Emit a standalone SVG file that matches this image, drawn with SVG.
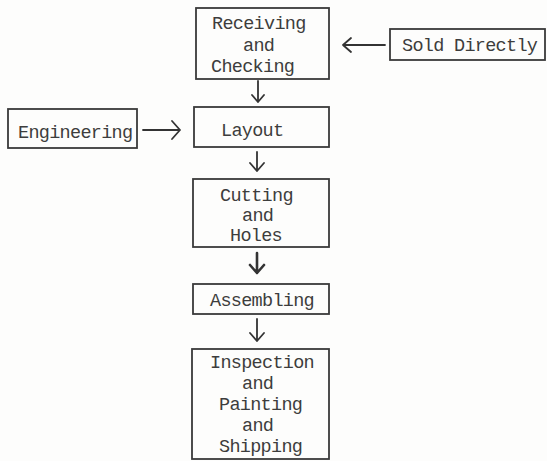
<svg xmlns="http://www.w3.org/2000/svg" width="547" height="461" viewBox="0 0 547 461">
<style>
.box{fill:none;stroke:#3a3a3a;stroke-width:1.8}
.t{font-family:"Liberation Mono","DejaVu Sans Mono",monospace;font-size:18.5px;letter-spacing:-0.7px;fill:#3d3d3d}
.c{fill:none;stroke:#333;stroke-width:1.8;stroke-linecap:round;stroke-linejoin:round}
.cb{stroke-width:2.6}
</style>
<rect width="547" height="461" fill="#fdfdfc"/>
<g id="receiving">
<rect class="box" x="196" y="8" width="133" height="71"/>
<text class="t" x="212" y="29">Receiving</text>
<text class="t" x="243" y="51">and</text>
<text class="t" x="211" y="72">Checking</text>
</g>
<g id="sold-directly">
<rect class="box" x="390" y="29" width="155" height="31"/>
<text class="t" x="402" y="51">Sold Directly</text>
</g>
<g id="engineering">
<rect class="box" x="8" y="109" width="129" height="39"/>
<text class="t" x="18" y="138">Engineering</text>
</g>
<g id="layout">
<rect class="box" x="194" y="107" width="135" height="40"/>
<text class="t" x="221" y="136">Layout</text>
</g>
<g id="cutting">
<rect class="box" x="193" y="179" width="136" height="68"/>
<text class="t" x="220" y="201">Cutting</text>
<text class="t" x="242" y="221">and</text>
<text class="t" x="230" y="241">Holes</text>
</g>
<g id="assembling">
<rect class="box" x="193" y="284" width="136" height="30"/>
<text class="t" x="210" y="306">Assembling</text>
</g>
<g id="inspection">
<rect class="box" x="192" y="349" width="137" height="110"/>
<text class="t" x="210" y="368">Inspection</text>
<text class="t" x="242" y="389">and</text>
<text class="t" x="219" y="410">Painting</text>
<text class="t" x="242" y="431">and</text>
<text class="t" x="219" y="452">Shipping</text>
</g>
<g id="connectors">
<path class="c" d="M385 45 H343 M351 38 L343 45 L351 52"/>
<path class="c" d="M258 81 V102 M252 95 L258 102 L264 95"/>
<path class="c" d="M143 130 H180 M172 121 L180 130 L172 139"/>
<path class="c" d="M257 152 V171 M250 163 L257 171 L264 163"/>
<path class="c cb" d="M257 253 V273 M250 265 L257 273 L264 265"/>
<path class="c" d="M257 319 V341 M250 333 L257 341 L264 333"/>
</g>
</svg>
